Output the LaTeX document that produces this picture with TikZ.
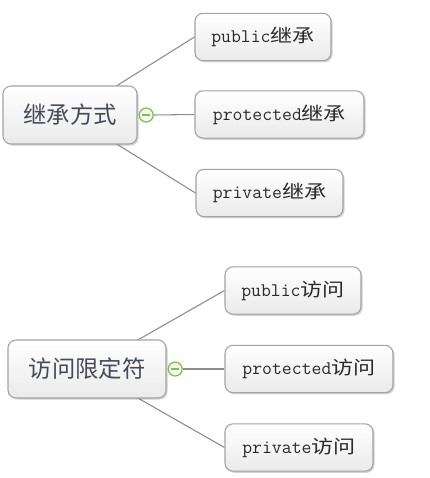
\documentclass[tikz,border=0pt]{standalone}
\usepackage{fontspec}
\usetikzlibrary{shadows,calc}
\newfontfamily\cjkroot{Noto Sans CJK SC}
\newfontfamily\cjkchild[FakeStretch=1.2]{Noto Sans CJK SC}
\newcommand\latmono{\ttfamily\fontsize{14.4}{16}\selectfont}
\newcommand\cjkc{\cjkchild\fontsize{13.8}{15}\selectfont}
\definecolor{boxborder}{HTML}{A3A3A3}
\definecolor{boxbottom}{HTML}{EAEAEA}
\definecolor{linegray}{HTML}{8C8C8C}
\definecolor{txtgray}{HTML}{2A2A2A}
\definecolor{rootblue}{HTML}{454A58}
\definecolor{mgreen}{HTML}{7DBE4E}
\pgfdeclarelayer{background}
\pgfsetlayers{background,main}
\tikzset{
  boxbase/.style={draw=boxborder, line width=0.8pt, rounded corners=6pt,
    top color=white, bottom color=boxbottom, inner sep=0pt,
    drop shadow={shadow xshift=1.2pt, shadow yshift=-1.2pt, opacity=0.18, fill=black}},
  rootbox/.style={boxbase, text=rootblue, font=\cjkroot\fontsize{17.5}{20}\selectfont, minimum height=43.5pt},
  childbox/.style={boxbase, text=txtgray, minimum height=35.5pt},
  branch/.style={draw=linegray, line width=0.8pt},
  minus/.style={circle, draw=mgreen, line width=0.9pt, fill=white, inner color=white, outer color=mgreen!15, minimum size=10.5pt, inner sep=0pt}
}
\begin{document}
\begin{tikzpicture}[x=0.75pt, y=-0.75pt]
\useasboundingbox (0,0) rectangle (429,478);
% first group
\node[rootbox, minimum width=100.5pt] (r1) at (70,115) {继承方式};
\node[childbox, minimum width=102pt] (c1) at (263,37) {\latmono public\cjkc 继承};
\node[childbox, minimum width=126.75pt] (c2) at (279.5,114.5) {\latmono protected\cjkc 继承};
\node[childbox, minimum width=110.25pt] (c3) at (269.5,193) {\latmono private\cjkc 继承};
\node[minus] (m1) at ([xshift=6.5pt]r1.east) {};
\draw[mgreen, line width=0.9pt] ([xshift=-3pt]m1.center) -- ([xshift=3pt]m1.center);
% second group
\node[rootbox, minimum width=118.5pt] (r2) at (87,369) {访问限定符};
\node[childbox, minimum width=102pt] (d1) at (293,290.5) {\latmono public\cjkc 访问};
\node[childbox, minimum width=126pt] (d2) at (309,369) {\latmono protected\cjkc 访问};
\node[childbox, minimum width=111pt] (d3) at (299,447.5) {\latmono private\cjkc 访问};
\node[minus] (m2) at ([xshift=6.5pt]r2.east) {};
\draw[mgreen, line width=0.9pt] ([xshift=-3pt]m2.center) -- ([xshift=3pt]m2.center);
\begin{pgfonlayer}{background}
\draw[branch] (r1.center) -- (c1.west);
\draw[branch] (m1.east) -- (c2.west);
\draw[branch] (r1.center) -- (c3.west);
\draw[branch] (r2.center) -- (d1.west);
\draw[branch] (m2.east) -- (d2.west);
\draw[branch] (r2.center) -- (d3.west);
\end{pgfonlayer}
\end{tikzpicture}
\end{document}
